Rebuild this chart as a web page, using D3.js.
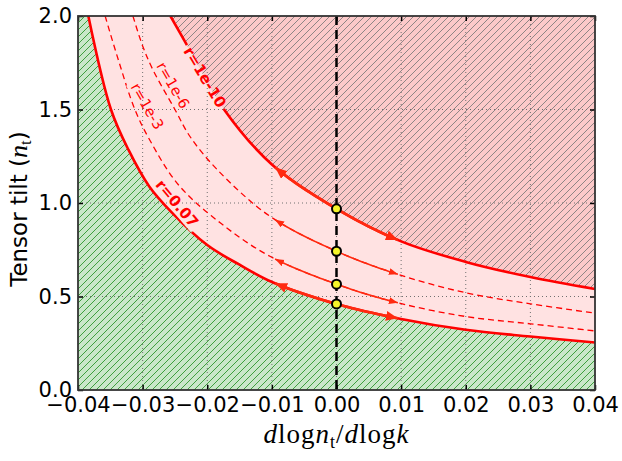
<!DOCTYPE html>
<html>
<head>
<meta charset="utf-8">
<script src="https://cdn.jsdelivr.net/npm/d3@7"></script>
<style>
  body { margin: 0; background: #fff; }
  svg { display: block; }
</style>
</head>
<body>
<svg id="chart" width="622" height="461"></svg>
<script>
// values: [dlog nt / dlog k, nt]
const curveR007 = [[-0.0384, 2.0], [-0.0349, 1.5], [-0.0322, 1.285], [-0.029, 1.09], [-0.0255, 0.95],
  [-0.02, 0.775], [-0.015, 0.67], [-0.0098, 0.575], [0, 0.46], [0.01, 0.38], [0.02, 0.322],
  [0.03, 0.286], [0.04, 0.254]]
const curveR1e3 = [[-0.0358, 2.0], [-0.0338, 1.77], [-0.0312, 1.5], [-0.0289, 1.337], [-0.0245, 1.099],
  [-0.018, 0.894], [-0.0103, 0.715], [0, 0.566], [0.0093, 0.468], [0.02, 0.393], [0.03, 0.354],
  [0.04, 0.316]]
const curveR1e6 = [[-0.0315, 2.0], [-0.03, 1.84], [-0.0284, 1.712], [-0.025, 1.5], [-0.0227, 1.357],
  [-0.0185, 1.18], [-0.0103, 0.929], [0, 0.742], [0.0092, 0.622], [0.02, 0.52], [0.03, 0.461],
  [0.04, 0.411]]
const curveR1e10 = [[-0.0257, 2.0], [-0.0229, 1.83], [-0.0174, 1.5], [-0.01, 1.206], [0, 0.969],
  [0.01, 0.795], [0.02, 0.685], [0.03, 0.604], [0.04, 0.54]]
const pointsNt = [0.969, 0.742, 0.566, 0.46]
const arrowRange = [-0.0095, 0.0095]
const xTicks = [-0.04, -0.03, -0.02, -0.01, 0, 0.01, 0.02, 0.03, 0.04]
const yTicks = [0, 0.5, 1.0, 1.5, 2.0]
const curveLabels = [
  { text: 'r=1e-10', x: -0.0204, y: 1.672, angle: 59, bold: true },
  { text: 'r=0.07', x: -0.0247, y: 0.997, angle: 50, bold: true },
  { text: 'r=1e-6', x: -0.0253, y: 1.63, angle: 60, bold: false },
  { text: 'r=1e-3', x: -0.0293, y: 1.517, angle: 60, bold: false }
]

const margin = { left: 78, right: 27, top: 16, bottom: 71 }
const width = 622 - margin.left - margin.right
const height = 461 - margin.top - margin.bottom

const svg = d3.select('#chart')
const defs = svg.append('defs')
const x = d3.scaleLinear().domain([-0.04, 0.04]).range([0, width])
const y = d3.scaleLinear().domain([0, 2]).range([height, 0])

defs.append('clipPath').attr('id', 'plotClip')
  .append('rect').attr('width', width).attr('height', height)

function hatch(id, color) {
  const p = defs.append('pattern').attr('id', id)
    .attr('patternUnits', 'userSpaceOnUse').attr('width', 7).attr('height', 7)
  p.append('path').attr('d', 'M0,7 L7,0 M-1,1 L1,-1 M6,8 L8,6')
    .attr('stroke', color).attr('stroke-width', 1)
}
hatch('hatchGreen', '#3f9f3f')
hatch('hatchGray', '#8f8585')

function marker(id, len, half) {
  defs.append('marker').attr('id', id)
    .attr('markerUnits', 'userSpaceOnUse')
    .attr('markerWidth', len + 1).attr('markerHeight', half * 2 + 1)
    .attr('refX', len).attr('refY', half)
    .attr('orient', 'auto-start-reverse')
    .append('path').attr('d', `M0,0 L${len},${half} L0,${half * 2} Z`).attr('fill', '#ff2a10')
}
marker('headThick', 12, 5)
marker('headThin', 9, 3.5)

const labelFont = d => ({ size: d.bold ? 15 : 14.5, weight: d.bold ? 'bold' : 'normal' })

// measure the labels so the curves can be cut under them (inline contour labels)
const probe = svg.append('text').attr('font-family', 'DejaVu Sans, sans-serif')
curveLabels.forEach(d => {
  probe.attr('font-size', labelFont(d).size).attr('font-weight', labelFont(d).weight).text(d.text)
  d.w = probe.node().getComputedTextLength()
})
probe.remove()

const mask = defs.append('mask').attr('id', 'labelGap')
  .attr('maskUnits', 'userSpaceOnUse').attr('x', 0).attr('y', 0)
  .attr('width', width).attr('height', height)
mask.append('rect').attr('width', width).attr('height', height).attr('fill', '#fff')
mask.selectAll('rect.gap').data(curveLabels).join('rect').attr('class', 'gap')
  .attr('transform', d => `translate(${x(d.x)},${y(d.y)}) rotate(${d.angle})`)
  .attr('x', d => -d.w / 2 - 3).attr('y', -8).attr('width', d => d.w + 6).attr('height', 16)
  .attr('fill', '#000')

const g = svg.append('g').attr('transform', `translate(${margin.left},${margin.top})`)
const plot = g.append('g').attr('clip-path', 'url(#plotClip)')

const line = d3.line().x(d => x(d[0])).y(d => y(d[1])).curve(d3.curveCatmullRom.alpha(0.5))

// pink band behind everything
plot.append('rect').attr('width', width).attr('height', height).attr('fill', '#ffe2e2')

// excluded regions
const greenPath = line(curveR007) + `L${width},${height}L0,${height}L0,0Z`
const redPath = line(curveR1e10) + `L${width},0Z`
plot.append('path').attr('d', greenPath).attr('fill', '#c9e7c9')
plot.append('path').attr('d', greenPath).attr('fill', 'url(#hatchGreen)')
plot.append('path').attr('d', redPath).attr('fill', '#fcc9c9')
plot.append('path').attr('d', redPath).attr('fill', 'url(#hatchGray)')

// grid
plot.append('g').selectAll('line').data(xTicks.slice(1, -1)).join('line')
  .attr('x1', d => x(d)).attr('x2', d => x(d)).attr('y1', 0).attr('y2', height)
  .attr('stroke', '#707070').attr('stroke-width', 1).attr('stroke-dasharray', '1,3')
plot.append('g').selectAll('line').data(yTicks.slice(1, -1)).join('line')
  .attr('y1', d => y(d)).attr('y2', d => y(d)).attr('x1', 0).attr('x2', width)
  .attr('stroke', '#707070').attr('stroke-width', 1).attr('stroke-dasharray', '1,3')

// r curves
const curves = [
  { data: curveR007, width: 2.6, dash: null, head: 'headThick', arrowWidth: 2.6 },
  { data: curveR1e3, width: 1.3, dash: '6,4', head: 'headThin', arrowWidth: 1.6 },
  { data: curveR1e6, width: 1.3, dash: '6,4', head: 'headThin', arrowWidth: 1.6 },
  { data: curveR1e10, width: 2.6, dash: null, head: 'headThick', arrowWidth: 2.6 }
]

function lengthAtX(node, px) {
  let lo = 0, hi = node.getTotalLength()
  for (let i = 0; i < 40; i++) {
    const mid = (lo + hi) / 2
    if (node.getPointAtLength(mid).x < px) lo = mid
    else hi = mid
  }
  return lo
}

const curveLayer = plot.append('g').attr('mask', 'url(#labelGap)')
curves.forEach(c => {
  const path = curveLayer.append('path').attr('d', line(c.data))
    .attr('fill', 'none').attr('stroke', '#ff0000').attr('stroke-width', c.width)
    .attr('stroke-dasharray', c.dash)
  c.node = path.node()
})

// vertical dashed line at zero running
plot.append('line')
  .attr('x1', x(0)).attr('x2', x(0)).attr('y1', 0).attr('y2', height)
  .attr('stroke', '#000').attr('stroke-width', 2.5).attr('stroke-dasharray', '9,5')

// flow arrows along each curve
curves.forEach(c => {
  const l0 = lengthAtX(c.node, x(arrowRange[0]))
  const l1 = lengthAtX(c.node, x(arrowRange[1]))
  const pts = d3.range(41).map(i => {
    const p = c.node.getPointAtLength(l0 + (l1 - l0) * i / 40)
    return [p.x, p.y]
  })
  plot.append('path').attr('d', d3.line()(pts))
    .attr('fill', 'none').attr('stroke', '#ff2a10').attr('stroke-width', c.arrowWidth)
    .attr('marker-start', `url(#${c.head})`).attr('marker-end', `url(#${c.head})`)
})

// fixed points
plot.append('g').selectAll('circle').data(pointsNt).join('circle')
  .attr('cx', x(0)).attr('cy', d => y(d)).attr('r', 4.5)
  .attr('fill', '#f5f52a').attr('stroke', '#000').attr('stroke-width', 2)

// curve labels
plot.append('g').selectAll('text').data(curveLabels).join('text')
  .attr('transform', d => `translate(${x(d.x)},${y(d.y)}) rotate(${d.angle})`)
  .attr('text-anchor', 'middle').attr('dominant-baseline', 'central')
  .attr('font-family', 'DejaVu Sans, sans-serif')
  .attr('font-size', d => labelFont(d).size)
  .attr('font-weight', d => labelFont(d).weight)
  .attr('fill', '#ff0000')
  .text(d => d.text)

// axes: inside ticks on all four sides
const fmtX = d => d3.format('.2f')(d).replace('-', '\u2212')
const fmtY = d3.format('.1f')
const axB = g.append('g').attr('transform', `translate(0,${height})`)
  .call(d3.axisBottom(x).tickValues(xTicks).tickSize(-5).tickPadding(7).tickFormat(fmtX))
const axL = g.append('g')
  .call(d3.axisLeft(y).tickValues(yTicks).tickSize(-5).tickPadding(6).tickFormat(fmtY))
const axT = g.append('g')
  .call(d3.axisTop(x).tickValues(xTicks).tickSize(-5).tickFormat(''))
const axR = g.append('g').attr('transform', `translate(${width},0)`)
  .call(d3.axisRight(y).tickValues(yTicks).tickSize(-5).tickFormat(''))
;[axB, axL, axT, axR].forEach(a => {
  a.select('.domain').remove()
  a.attr('font-size', 21).attr('font-family', 'DejaVu Sans, sans-serif')
  a.selectAll('.tick line').attr('stroke', '#000').attr('stroke-width', 1.5)
  a.selectAll('.tick text').attr('fill', '#000')
})

g.append('rect').attr('width', width).attr('height', height)
  .attr('fill', 'none').attr('stroke', '#333').attr('stroke-width', 1.8)

// axis titles
const xt = svg.append('text')
  .attr('x', margin.left + width / 2).attr('y', 443)
  .attr('text-anchor', 'middle').attr('letter-spacing', 1)
  .attr('font-family', 'Liberation Serif, serif').attr('font-size', 27)
xt.append('tspan').attr('font-style', 'italic').text('d')
xt.append('tspan').text('log')
xt.append('tspan').attr('font-style', 'italic').text('n')
xt.append('tspan').attr('font-size', 18).attr('dy', 5).text('t')
xt.append('tspan').attr('dy', -5).text('/')
xt.append('tspan').attr('font-style', 'italic').text('d')
xt.append('tspan').text('log')
xt.append('tspan').attr('font-style', 'italic').text('k')

const yt = svg.append('text')
  .attr('transform', 'translate(27,209) rotate(-90)')
  .attr('text-anchor', 'middle')
  .attr('font-family', 'DejaVu Sans, sans-serif').attr('font-size', 23)
yt.append('tspan').text('Tensor tilt (')
yt.append('tspan').attr('font-family', 'Liberation Serif, serif').attr('font-style', 'italic')
  .attr('font-size', 26).text('n')
yt.append('tspan').attr('font-family', 'Liberation Serif, serif').attr('font-size', 17)
  .attr('dy', 4).text('t')
yt.append('tspan').attr('dy', -4).text(')')
</script>
</body>
</html>
